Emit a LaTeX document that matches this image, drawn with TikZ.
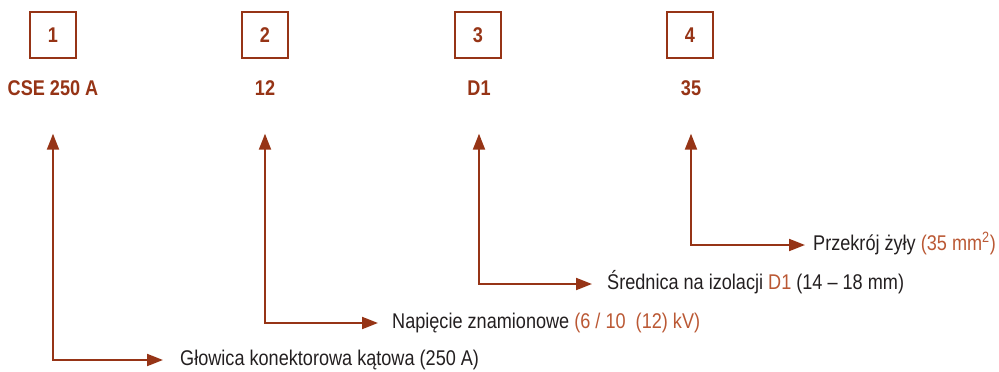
\documentclass[tikz,border=0pt]{standalone}
\usepackage{fontspec}
\setmainfont{Liberation Sans}[FakeStretch=0.85]
\usepackage{tikz}
\usetikzlibrary{arrows.meta}
\definecolor{mybrown}{RGB}{150,52,22}
\definecolor{mylight}{RGB}{186,88,52}
\definecolor{mytext}{RGB}{35,31,32}
\newcommand{\bigfont}{\fontsize{21.3}{25}\selectfont}
\newcommand{\hl}[1]{\textcolor{mylight}{#1}}
\tikzset{
  numbox/.style={rectangle, draw=mybrown, line width=1.4pt,
    minimum size=46pt, inner sep=0pt,
    font=\bfseries\bigfont, text=mybrown},
  codelbl/.style={inner sep=0pt, text height=15pt, text depth=0pt,
    font=\bfseries\bigfont, text=mybrown},
  desc/.style={anchor=west, inner sep=0pt, text height=15pt, text depth=5pt,
    font=\bigfont, text=mytext},
  link/.style={{Triangle[length=16pt,width=12pt]}-{Triangle[length=16pt,width=12pt]},
    line width=2pt, color=mybrown, shorten <=38pt}
}

\begin{document}
\begin{tikzpicture}[x=1pt, y=-1pt]
  \useasboundingbox (0,0) rectangle (999,372);

  % numbered boxes
  \node[numbox] (box1) at (53,35) {1};
  \node[numbox] (box2) at (265,35) {2};
  \node[numbox] (box3) at (478,35) {3};
  \node[numbox] (box4) at (690,35) {4};

  % code parts
  \node[codelbl] (lbl1) at (53,88) {CSE 250 A};
  \node[codelbl] (lbl2) at (265,88) {12};
  \node[codelbl] (lbl3) at (479,88) {D1};
  \node[codelbl] (lbl4) at (691,88) {35};

  % arrow ends
  \coordinate (e1) at (163,360);
  \coordinate (e2) at (378,323);
  \coordinate (e3) at (592,284);
  \coordinate (e4) at (805,245);

  % descriptions
  \node[desc] (txt1) at (180,360) {Głowica konektorowa kątowa (250 A)};
  \node[desc] (txt2) at (392,323) {Napięcie znamionowe \hl{(6 / 10\ \ (12) kV)}};
  \node[desc] (txt3) at (607,284) {Średnica na izolacji \hl{D1} (14 -- 18 mm)};
  \node[desc] (txt4) at (813,245) {Przekrój żyły \hl{(35 mm\textsuperscript{2})}};

  \draw[link] (lbl1.south) |- (e1);
  \draw[link] (lbl2.south) |- (e2);
  \draw[link] (lbl3.south) |- (e3);
  \draw[link] (lbl4.south) |- (e4);
\end{tikzpicture}
\end{document}
